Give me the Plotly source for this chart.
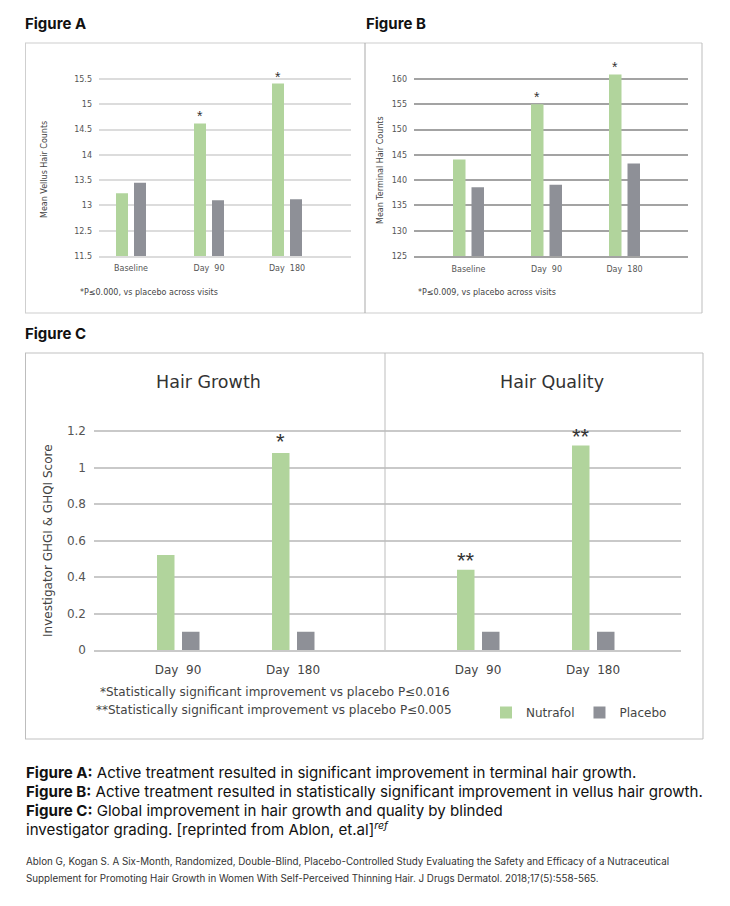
import plotly.graph_objects as go

# ---------------- data ----------------
visits_ab = ["Baseline", "Day 90", "Day 180"]
vellus_nutrafol = [13.24, 14.62, 15.41]
vellus_placebo = [13.45, 13.10, 13.12]
vellus_stars = ["", "*", "*"]
vellus_tickvals = [12, 12.5, 13, 13.5, 14, 14.5, 15, 15.5]
vellus_ticktext = ["11.5", "12.5", "13", "13.5", "14", "14.5", "15", "15.5"]

terminal_nutrafol = [144.1, 155.0, 160.9]
terminal_placebo = [138.6, 139.1, 143.3]
terminal_stars = ["", "*", "*"]
terminal_tickvals = [125, 130, 135, 140, 145, 150, 155, 160]

visits_c = ["Day 90", "Day 180"]
growth_nutrafol = [0.52, 1.08]
growth_placebo = [0.10, 0.10]
growth_stars = ["", "*"]
quality_nutrafol = [0.44, 1.12]
quality_placebo = [0.10, 0.10]
quality_stars = ["**", "**"]
score_tickvals = [0, 0.2, 0.4, 0.6, 0.8, 1.0, 1.2]
score_ticktext = ["0", "0.2", "0.4", "0.6", "0.8", "1", "1.2"]

# ---------------- styling ----------------
W, H = 730, 906
GREEN = "#b1d49c"
GREY = "#8e9097"
FONT = "DejaVu Sans, Verdana, sans-serif"
STARFONT = "Liberation Sans, Arial, sans-serif"
CAPFONT = "Inter, Roboto, sans-serif"


def px(x):
    return x / W


def py(y):
    return 1 - y / H


def spaced(labels):
    return [s.replace(" ", "\u00a0\u00a0") for s in labels]


fig = go.Figure()


def add_pair(nut, pla, cats, xa, ya, unit, off_n, off_p, wpx, legend):
    fig.add_trace(go.Bar(x=cats, y=nut, name="Nutrafol", marker_color=GREEN,
                         marker_line_width=0, xaxis=xa, yaxis=ya,
                         offset=off_n / unit, width=wpx / unit,
                         showlegend=legend))
    fig.add_trace(go.Bar(x=cats, y=pla, name="Placebo", marker_color=GREY,
                         marker_line_width=0, xaxis=xa, yaxis=ya,
                         offset=off_p / unit, width=wpx / unit,
                         showlegend=legend))


# Figure A
add_pair(vellus_nutrafol, vellus_placebo, visits_ab, "x", "y", 78, -15, 3, 12, False)
# Figure B
add_pair(terminal_nutrafol, terminal_placebo, visits_ab, "x2", "y2", 78, -15.5, 3, 12.5, False)
# Figure C
add_pair(growth_nutrafol, growth_placebo, visits_c, "x3", "y3", 115, -21, 4, 17.5, True)
add_pair(quality_nutrafol, quality_placebo, visits_c, "x4", "y4", 115, -21, 4, 17.5, False)

annotations = []


def stars(cats, vals, marks, xref, yref, unit, off, w, size, shift):
    for c, v, m in zip(cats, vals, marks):
        if not m:
            continue
        i = cats.index(c)
        annotations.append(dict(x=i + (off + w / 2) / unit, y=v, xref=xref, yref=yref,
                                text=m, showarrow=False, yanchor="bottom",
                                yshift=shift,
                                font=dict(family=STARFONT, size=size, color="#333")))


stars(visits_ab, vellus_nutrafol, vellus_stars, "x", "y", 78, -15, 12, 14, -3)
stars(visits_ab, terminal_nutrafol, terminal_stars, "x2", "y2", 78, -15.5, 12.5, 14, -3)
stars(visits_c, growth_nutrafol, growth_stars, "x3", "y3", 115, -21, 17.5, 22, -3)
stars(visits_c, quality_nutrafol, quality_stars, "x4", "y4", 115, -21, 17.5, 22, -5)

small_tick = dict(family=FONT, size=8, color="#555")
c_tick = dict(family=FONT, size=12, color="#444")
grid_a = "#dcdcdc"
grid_b = "#a3a3a3"
grid_c = "#c9c9c9"

TOP_AB = 50  # pixel top of the A/B plotting domains

layout = dict(
    width=W, height=H,
    margin=dict(l=0, r=0, t=0, b=0, autoexpand=False),
    paper_bgcolor="white", plot_bgcolor="white",
    barmode="overlay",
    font=dict(family=FONT, color="#444"),
    # Figure A
    xaxis=dict(domain=[px(99), px(351)], range=[(99 - 131) / 78, (351 - 131) / 78],
               type="category", showgrid=False, zeroline=False, automargin=False,
               tickvals=visits_ab, ticktext=spaced(visits_ab),
               showline=True, linecolor=grid_a, linewidth=1.5,
               tickfont=small_tick, ticks="", ticklabelstandoff=4),
    yaxis=dict(domain=[py(256), py(TOP_AB)], range=[12, 15.5 + (79 - TOP_AB) / 50.57],
               tickvals=vellus_tickvals, ticktext=vellus_ticktext, automargin=False,
               gridcolor=grid_a, gridwidth=1.5, zeroline=False,
               tickfont=small_tick, ticks="", ticklabelstandoff=6),
    # Figure B
    xaxis2=dict(domain=[px(414), px(688)], range=[(414 - 468.5) / 78, (688 - 468.5) / 78],
                type="category", showgrid=False, zeroline=False, automargin=False,
                tickvals=visits_ab, ticktext=spaced(visits_ab),
                showline=True, linecolor=grid_b, linewidth=2, anchor="y2",
                tickfont=small_tick, ticks="", ticklabelstandoff=4),
    yaxis2=dict(domain=[py(256), py(TOP_AB)], range=[125, 160 + (79 - TOP_AB) / 5.057], anchor="x2",
                tickvals=terminal_tickvals, automargin=False,
                gridcolor=grid_b, gridwidth=2, zeroline=False,
                tickfont=small_tick, ticks="", ticklabelstandoff=6),
    # Figure C growth
    xaxis3=dict(domain=[px(94), px(385)], range=[(94 - 178) / 115, (385 - 178) / 115],
                type="category", showgrid=False, zeroline=False, automargin=False,
                tickvals=visits_c, ticktext=spaced(visits_c),
                showline=True, linecolor=grid_c, linewidth=1.5, anchor="y3",
                tickfont=c_tick, ticks="", ticklabelstandoff=8),
    yaxis3=dict(domain=[py(650), py(410)], range=[0, 1.2 + 21 / 182.5], anchor="x3",
                tickvals=score_tickvals, ticktext=score_ticktext, automargin=False,
                gridcolor=grid_c, gridwidth=1.5, zeroline=False,
                tickfont=dict(family=FONT, size=12, color="#555"), ticks="",
                ticklabelstandoff=7),
    # Figure C quality
    xaxis4=dict(domain=[px(385), px(681)], range=[(385 - 478) / 115, (681 - 478) / 115],
                type="category", showgrid=False, zeroline=False, automargin=False,
                tickvals=visits_c, ticktext=spaced(visits_c),
                showline=True, linecolor=grid_c, linewidth=1.5, anchor="y4",
                tickfont=c_tick, ticks="", ticklabelstandoff=8),
    yaxis4=dict(domain=[py(650), py(410)], range=[0, 1.2 + 21 / 182.5], anchor="x4",
                tickvals=score_tickvals, showticklabels=False, automargin=False,
                gridcolor=grid_c, gridwidth=1.5, zeroline=False),
    legend=dict(orientation="h", x=px(486), y=py(698), xanchor="left", yanchor="top",
                font=dict(family=FONT, size=12, color="#444"),
                itemwidth=30, traceorder="normal", bgcolor="rgba(0,0,0,0)"),
)

# borders
shapes = [
    dict(type="line", xref="paper", yref="paper", x0=px(25), x1=px(702), y0=py(43), y1=py(43),
         line=dict(color="#dedede", width=1.5)),
    dict(type="line", xref="paper", yref="paper", x0=px(25), x1=px(702), y0=py(313), y1=py(313),
         line=dict(color="#dedede", width=1.5)),
    dict(type="line", xref="paper", yref="paper", x0=px(25.5), x1=px(25.5), y0=py(43), y1=py(313),
         line=dict(color="#cfcfcf", width=1)),
    dict(type="line", xref="paper", yref="paper", x0=px(365), x1=px(365), y0=py(43), y1=py(313),
         line=dict(color="#a9a9a9", width=1)),
    dict(type="line", xref="paper", yref="paper", x0=px(702), x1=px(702), y0=py(43), y1=py(313),
         line=dict(color="#bdbdbd", width=1)),
    # Figure C box
    dict(type="line", xref="paper", yref="paper", x0=px(25), x1=px(703), y0=py(353), y1=py(353),
         line=dict(color="#d6d6d6", width=1.5)),
    dict(type="line", xref="paper", yref="paper", x0=px(25), x1=px(703), y0=py(739), y1=py(739),
         line=dict(color="#d6d6d6", width=1.5)),
    dict(type="line", xref="paper", yref="paper", x0=px(25.5), x1=px(25.5), y0=py(353), y1=py(739),
         line=dict(color="#bdbdbd", width=1)),
    dict(type="line", xref="paper", yref="paper", x0=px(703), x1=px(703), y0=py(353), y1=py(739),
         line=dict(color="#bdbdbd", width=1)),
    dict(type="line", xref="paper", yref="paper", x0=px(385), x1=px(385), y0=py(353), y1=py(650),
         line=dict(color="#bdbdbd", width=1)),
]


def text(x, y, t, size, color="#333", family=FONT, xanchor="left", angle=0):
    annotations.append(dict(x=px(x), y=py(y), xref="paper", yref="paper", text=t,
                            showarrow=False, xanchor=xanchor, yanchor="middle",
                            textangle=angle,
                            font=dict(family=family, size=size, color=color)))


text(23, 23, "<b>Figure A</b>", 15, "#111", CAPFONT)
text(364, 23, "<b>Figure B</b>", 15, "#111", CAPFONT)
text(23, 333, "<b>Figure C</b>", 15, "#111", CAPFONT)

text(45, 170, "Mean Vellus Hair Counts", 8, "#444", angle=-90, xanchor="center")
text(381, 170, "Mean Terminal Hair Counts", 8, "#444", angle=-90, xanchor="center")
text(78, 292, "*P\u22640.000, vs placebo across visits", 8, "#444")
text(416, 292, "*P\u22640.009, vs placebo across visits", 8, "#444")

text(208, 382, "Hair Growth", 17.5, "#333", xanchor="center")
text(552, 382, "Hair Quality", 17.5, "#333", xanchor="center")
text(48, 540, "Investigator GHGI &amp; GHQI Score", 12, "#444", angle=-90, xanchor="center")
text(98, 692, "*Statistically significant improvement vs placebo P\u22640.016", 12, "#444")
text(94, 710, "**Statistically significant improvement vs placebo P\u22640.005", 12, "#444")

text(24, 772, "<b>Figure A:</b> Active treatment resulted in significant improvement in terminal hair growth.", 15.1, "#111", CAPFONT)
text(24, 791, "<b>Figure B:</b> Active treatment resulted in statistically significant improvement in vellus hair growth.", 15.1, "#111", CAPFONT)
text(24, 810, "<b>Figure C:</b> Global improvement in hair growth and quality by blinded", 15.1, "#111", CAPFONT)
text(24, 829, "investigator grading. [reprinted from Ablon, et.al]<sup><i>ref</i></sup>", 15.1, "#111", CAPFONT)
text(24, 861, "Ablon G, Kogan S. A Six-Month, Randomized, Double-Blind, Placebo-Controlled Study Evaluating the Safety and Efficacy of a Nutraceutical", 9.8, "#333", CAPFONT)
text(24, 878, "Supplement for Promoting Hair Growth in Women With Self-Perceived Thinning Hair. J Drugs Dermatol. 2018;17(5):558-565.", 9.8, "#333", CAPFONT)

layout["annotations"] = annotations
layout["shapes"] = shapes
fig.update_layout(**layout)
fig.write_html("out.html", config={"displayModeBar": False},
               post_script="document.body.style.margin='0';")
